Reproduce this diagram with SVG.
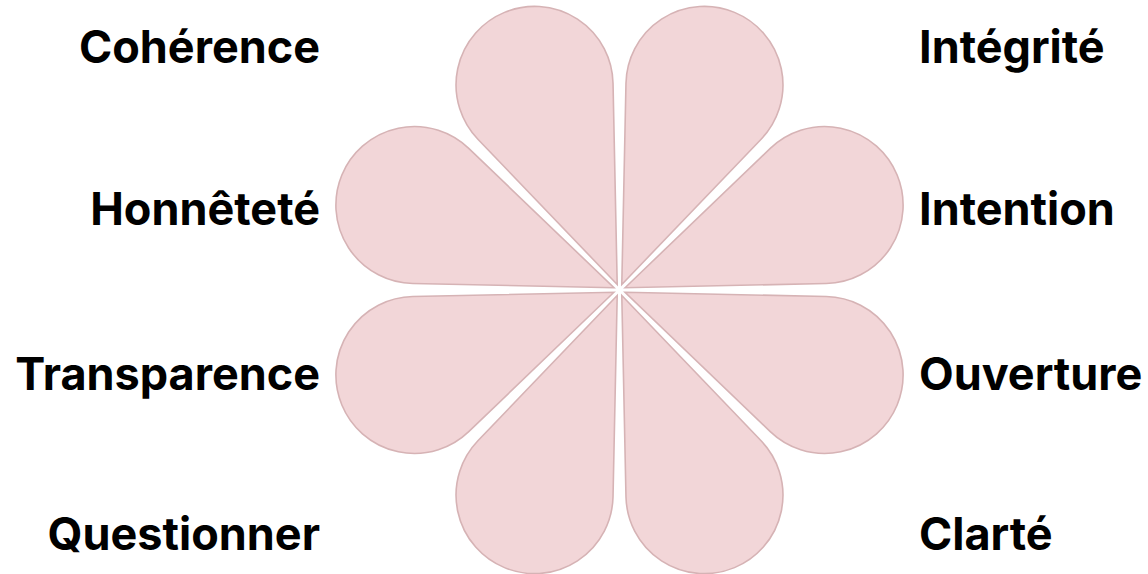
<svg xmlns="http://www.w3.org/2000/svg" xmlns:xlink="http://www.w3.org/1999/xlink" width="1148" height="574" viewBox="0 0 1148 574">
<style>
.petal{fill:#F2D6D8;stroke:#D6B3B5;stroke-width:1.6}
.lbl{font-family:Inter,"Liberation Sans",sans-serif;font-weight:700;font-size:45px;fill:#000}
.l{text-anchor:end}
.r{text-anchor:start}
</style>
<defs>
<path id="petal" d="M6 0 L193.47 -73.13 A78.5 78.5 0 1 1 193.47 73.13 Z"/>
</defs>
<rect width="1148" height="574" fill="#fff"/>
<g id="connectors"></g>
<g id="n-coherence">
<use xlink:href="#petal" class="petal" transform="translate(619.5 290) rotate(-112.5)"/>
<text class="lbl l" x="320" y="63">Cohérence</text>
</g>
<g id="n-integrite">
<use xlink:href="#petal" class="petal" transform="translate(619.5 290) rotate(-67.5)"/>
<text class="lbl r" x="919" y="63">Intégrité</text>
</g>
<g id="n-honnetete">
<use xlink:href="#petal" class="petal" transform="translate(619.5 290) rotate(-157.5)"/>
<text class="lbl l" x="320" y="225">Honnêteté</text>
</g>
<g id="n-intention">
<use xlink:href="#petal" class="petal" transform="translate(619.5 290) rotate(-22.5)"/>
<text class="lbl r" x="919" y="225">Intention</text>
</g>
<g id="n-transparence">
<use xlink:href="#petal" class="petal" transform="translate(619.5 290) rotate(157.5)"/>
<text class="lbl l" x="320" y="390">Transparence</text>
</g>
<g id="n-ouverture">
<use xlink:href="#petal" class="petal" transform="translate(619.5 290) rotate(22.5)"/>
<text class="lbl r" x="919" y="390">Ouverture</text>
</g>
<g id="n-questionner">
<use xlink:href="#petal" class="petal" transform="translate(619.5 290) rotate(112.5)"/>
<text class="lbl l" x="320" y="550">Questionner</text>
</g>
<g id="n-clarte">
<use xlink:href="#petal" class="petal" transform="translate(619.5 290) rotate(67.5)"/>
<text class="lbl r" x="919" y="550">Clarté</text>
</g>
</svg>
